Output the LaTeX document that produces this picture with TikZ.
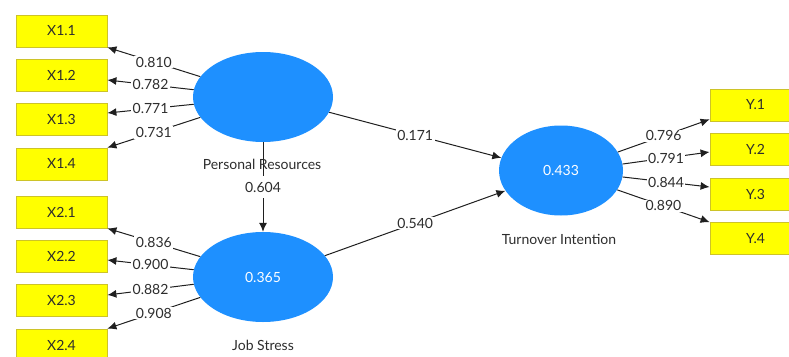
\documentclass[tikz,border=0pt]{standalone}
\usepackage{fontspec}
\setmainfont{Lato}
\usetikzlibrary{calc,arrows.meta,shapes.geometric}
\definecolor{plsblue}{RGB}{30,144,255}
\definecolor{boxyellow}{RGB}{255,255,0}
\definecolor{boxedge}{RGB}{205,195,40}
\definecolor{txt}{RGB}{45,45,45}
\begin{document}
\begin{tikzpicture}[x=1pt,y=-1pt,
  ind/.style={draw=boxedge, line width=0.8pt, fill=boxyellow, minimum width=91pt,
    minimum height=32pt, inner sep=0pt, text=txt, font=\fontsize{14}{16}\selectfont},
  lv/.style={ellipse, fill=plsblue, draw=none, minimum width=140pt, minimum height=90pt,
    inner sep=0pt, text=white, font=\fontsize{14}{16}\selectfont},
  lvname/.style={text=txt, font=\fontsize{14}{16}\selectfont, inner sep=0pt},
  conn/.style={draw=black!88, line width=1pt, -{Latex[length=9pt,width=8pt]}},
  coef/.style={fill=white, text=txt, inner xsep=1.5pt, inner ysep=1pt,
    font=\fontsize{14}{16}\selectfont}]
\useasboundingbox (0,0) rectangle (789,356);
\clip (0,0) rectangle (789,356);

% indicator boxes
\node[ind] (x11) at (61.5,31) {X1.1};
\node[ind] (x12) at (61.5,75) {X1.2};
\node[ind] (x13) at (61.5,119) {X1.3};
\node[ind] (x14) at (61.5,164) {X1.4};
\node[ind] (x21) at (61.5,212) {X2.1};
\node[ind] (x22) at (61.5,256.5) {X2.2};
\node[ind] (x23) at (61.5,300) {X2.3};
\node[ind] (x24) at (61.5,345) {X2.4};
\node[ind] (y1) at (755.5,105) {Y.1};
\node[ind] (y2) at (755.5,149.5) {Y.2};
\node[ind] (y3) at (755.5,194) {Y.3};
\node[ind] (y4) at (755.5,238.5) {Y.4};

% latent variables
\node[lv] (pr) at (263,97) {};
\node[lv] (js) at (263,277) {0.365};
\node[lv, minimum width=124pt] (ti) at (561,170.5) {0.433};

% outer loadings: Personal Resources
\draw[conn] (pr.162) -- node[coef]{0.810} (x11.south east);
\draw[conn] (pr.174) -- node[coef]{0.782} ($(x12.east)+(0,5)$);
\draw[conn] (pr.186) -- node[coef]{0.771} ($(x13.east)+(0,-6)$);
\draw[conn] (pr.198) -- node[coef]{0.731} (x14.north east);

% outer loadings: Job Stress
\draw[conn] (js.162) -- node[coef]{0.836} (x21.south east);
\draw[conn] (js.174) -- node[coef]{0.900} ($(x22.east)+(0,3.5)$);
\draw[conn] (js.186) -- node[coef]{0.882} ($(x23.east)+(0,-5)$);
\draw[conn] (js.198) -- node[coef]{0.908} (x24.north east);

% outer loadings: Turnover Intention
\draw[conn] (ti.18) -- node[coef]{0.796} ($(y1.south west)+(0,-2)$);
\draw[conn] (ti.6) -- node[coef]{0.791} ($(y2.west)+(0,2.5)$);
\draw[conn] (ti.-6) -- node[coef]{0.844} ($(y3.west)+(0,-7)$);
\draw[conn] (ti.-19) -- node[coef]{0.890} (y4.north west);

% structural paths
\draw[conn] (pr.south) -- node[coef, inner ysep=6pt]{0.604} (js.north);
\draw[conn] (pr.-13) -- node[coef]{0.171} (ti.168);
\draw[conn] (js.19) -- node[coef]{0.540} (ti.200);

% construct names
\node[lvname] (prn) at (262,164) {Personal Resources};
\node[lvname] (jsn) at (263,345) {Job Stress};
\node[lvname] (tin) at (559,239) {Turnover Intention};
\end{tikzpicture}
\end{document}
